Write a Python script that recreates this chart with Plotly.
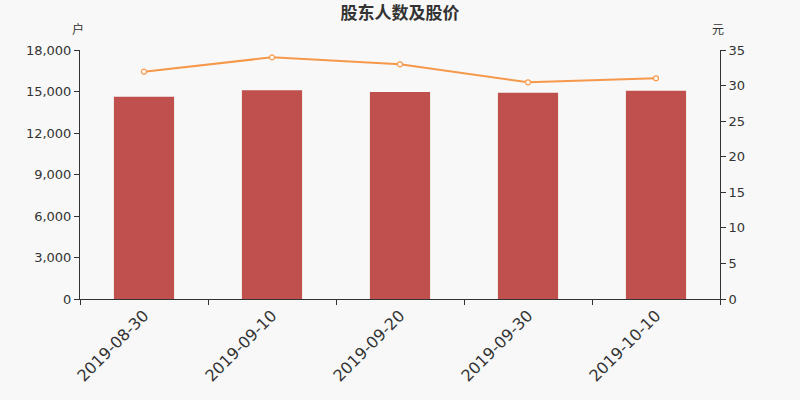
import plotly.graph_objects as go

dates = ["2019-08-30", "2019-09-10", "2019-09-20", "2019-09-30", "2019-10-10"]
holders = [14620, 15090, 14960, 14910, 15060]
price = [31.95, 33.97, 32.99, 30.46, 31.02]
left_ticks = [0, 3000, 6000, 9000, 12000, 15000, 18000]
right_ticks = [0, 5, 10, 15, 20, 25, 30, 35]

font_family = "DejaVu Sans, Noto Sans CJK SC"
fig = go.Figure()
fig.add_trace(go.Bar(x=dates, y=holders, marker_color="#c0504d", marker_line_width=0,
                     width=0.47, name="股东人数", yaxis="y"))
fig.add_trace(go.Scatter(x=dates, y=price, mode="lines+markers", yaxis="y2",
                         line=dict(color="#f6984a", width=2),
                         marker=dict(symbol="circle", size=5, color="white",
                                     line=dict(color="#f6984a", width=1.2)),
                         name="股价"))

fig.update_layout(
    width=800, height=400,
    paper_bgcolor="#f8f8f8", plot_bgcolor="#f8f8f8",
    margin=dict(l=80, r=80, t=50, b=101, autoexpand=False),
    showlegend=False,
    font=dict(family=font_family, color="#333333", size=12),
    title=dict(text="<b>股东人数及股价</b>", x=0.5, xanchor="center", y=0.967, yanchor="middle",
               yref="container",
               font=dict(family="Noto Sans CJK SC", size=17, color="#333333")),
    xaxis=dict(type="category", showline=True, linecolor="#333333", linewidth=1,
               ticks="outside", tickson="boundaries", ticklen=5, tickcolor="#333333",
               tickangle=-45, tickfont=dict(size=16, color="#333333"),
               showgrid=False, automargin=False),
    yaxis=dict(range=[0, 18000], tickvals=left_ticks, tickformat=",d", showline=True,
               linecolor="#333333", ticks="outside", ticklen=5, tickcolor="#333333",
               showgrid=False, zeroline=False, tickfont=dict(size=13), automargin=False),
    yaxis2=dict(range=[0, 35], tickvals=right_ticks, overlaying="y", side="right",
                showline=True, linecolor="#333333", ticks="outside", ticklen=5,
                tickcolor="#333333", showgrid=False, zeroline=False, tickfont=dict(size=13),
                automargin=False),
    bargap=0.53,
)
fig.add_annotation(text="户", xref="paper", yref="paper", x=0, y=1, yshift=22, xshift=-2,
                   xanchor="center", yanchor="middle",
                   showarrow=False, font=dict(family="Noto Sans CJK SC", size=12, color="#333333"))
fig.add_annotation(text="元", xref="paper", yref="paper", x=1, y=1, yshift=22, xshift=-2,
                   xanchor="center", yanchor="middle",
                   showarrow=False, font=dict(family="Noto Sans CJK SC", size=12, color="#333333"))

fig.write_html("out.html", config={"displayModeBar": False},
               post_script="document.body.style.margin='0';document.body.style.background='#f8f8f8';")
